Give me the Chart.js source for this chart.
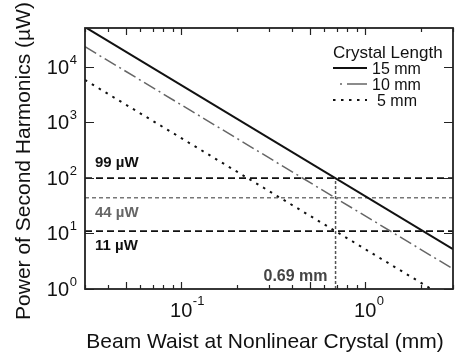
<html>
<head>
    <script src="https://cdn.jsdelivr.net/npm/chart.js@4/dist/chart.umd.min.js"></script>
    <title>Second harmonic power</title>
    <style>body { margin: 0; background: #fff; }</style>
</head>
<body>
<canvas id="shg-chart" width="457" height="355"></canvas>

<script>
    // beam waist (mm) at both ends of each line, and power (uW) there
    var waist = [0.03, 3];
    var power15 = [52000, 5.2];
    var power10 = [23000, 2.3];
    var power5 = [5800, 0.58];

    // reference levels and the cut waist
    var levels = [99, 44, 11];
    var levelNames = ['99 \u00b5W', '44 \u00b5W', '11 \u00b5W'];
    var cutWaist = 0.69;
    var cutName = '0.69 mm';

    // ticks
    var xTicks = [0.03, 0.04, 0.05, 0.06, 0.07, 0.08, 0.09, 0.1, 0.2, 0.3, 0.4, 0.5, 0.6, 0.7, 0.8, 0.9, 1, 2, 3];
    var xLongTicks = [0.05, 0.1, 0.5, 1];
    var xTickLabels = [[0.1, '10', '-1'], [1, '10', '0']];
    var yTicks = [1, 10, 100, 1000, 10000];
    var yTickLabels = ['0', '1', '2', '3', '4'];

    var legendTitle = 'Crystal Length';
    var legendNames = ['15 mm', '10 mm', '5 mm'];

    var FONT = '"Liberation Sans", Arial, Helvetica, sans-serif';

    function pts(xs, ys) {
        return xs.map((x, i) => ({x: x, y: ys[i]}));
    }

    var datasets = [
        {data: pts(waist, power15), borderColor: '#111', borderWidth: 2},
        {data: pts(waist, power10), borderColor: '#666', borderWidth: 1.5, borderDash: [13, 4, 2, 4]},
        {data: pts(waist, power5), borderColor: '#111', borderWidth: 2, borderDash: [2.5, 5.5]}
    ];
    levels.forEach((lv, i) => {
        datasets.push({
            data: pts(waist, [lv, lv]),
            borderColor: i == 1 ? '#777' : '#111',
            borderWidth: i == 1 ? 1.5 : 1.6,
            borderDash: i == 1 ? [4, 3] : [7, 4]
        });
    });
    datasets.push({
        data: pts([cutWaist, cutWaist], [1, levels[0]]),
        borderColor: '#555', borderWidth: 1.5, borderDash: [3, 2]
    });
    datasets.forEach(d => { d.pointRadius = 0; d.fill = false; });

    var decorations = {
        id: 'decorations',
        afterDraw: function (chart) {
            var ctx = chart.ctx;
            var a = chart.chartArea;
            var xs = chart.scales.x, ys = chart.scales.y;
            ctx.save();

            // frame
            ctx.strokeStyle = '#222';
            ctx.lineWidth = 1.8;
            ctx.setLineDash([]);
            ctx.strokeRect(a.left, a.top, a.right - a.left, a.bottom - a.top);

            // inward ticks
            ctx.lineWidth = 1.2;
            ctx.beginPath();
            xTicks.forEach(v => {
                var px = Math.round(xs.getPixelForValue(v)) + 0.5;
                var len = xLongTicks.indexOf(v) >= 0 ? 7 : 4;
                ctx.moveTo(px, a.bottom); ctx.lineTo(px, a.bottom - len);
                ctx.moveTo(px, a.top); ctx.lineTo(px, a.top + len);
            });
            yTicks.forEach(v => {
                var py = Math.round(ys.getPixelForValue(v)) + 0.5;
                ctx.moveTo(a.left, py); ctx.lineTo(a.left + 9, py);
                ctx.moveTo(a.right, py); ctx.lineTo(a.right - 9, py);
            });
            ctx.stroke();

            // tick labels
            ctx.fillStyle = '#111';
            ctx.textBaseline = 'alphabetic';
            xTickLabels.forEach(t => {
                var px = xs.getPixelForValue(t[0]);
                ctx.font = '20px ' + FONT;
                ctx.textAlign = 'center';
                ctx.fillText(t[1], px, 317);
                var w = ctx.measureText(t[1]).width;
                ctx.font = '13px ' + FONT;
                ctx.textAlign = 'left';
                ctx.fillText(t[2], px + w / 2 + 0.5, 305);
            });
            yTicks.forEach((v, i) => {
                var py = ys.getPixelForValue(v);
                ctx.font = '13px ' + FONT;
                ctx.textAlign = 'right';
                ctx.fillText(yTickLabels[i], 77, py - 3);
                ctx.font = '20px ' + FONT;
                ctx.fillText('10', 69, py + 7);
            });

            // axis titles
            ctx.font = '21px ' + FONT;
            ctx.textAlign = 'center';
            ctx.fillText('Beam Waist at Nonlinear Crystal (mm)', 265, 348);
            ctx.save();
            ctx.translate(30, 161);
            ctx.rotate(-Math.PI / 2);
            ctx.fillText('Power of Second Harmonics (\u00b5W)', 0, 0);
            ctx.restore();

            // level labels
            ctx.font = 'bold 15px ' + FONT;
            ctx.textAlign = 'left';
            var lvOffset = [-11, 19, 19];
            levels.forEach((lv, i) => {
                var py = ys.getPixelForValue(lv);
                ctx.fillStyle = i == 1 ? '#666' : '#111';
                ctx.fillText(levelNames[i], 95, py + lvOffset[i]);
            });
            ctx.font = 'bold 16px ' + FONT;
            ctx.fillStyle = '#444';
            ctx.textAlign = 'right';
            ctx.fillText(cutName, xs.getPixelForValue(cutWaist) - 8, 281);

            // legend
            ctx.fillStyle = '#111';
            ctx.textAlign = 'left';
            ctx.font = '17px ' + FONT;
            ctx.fillText(legendTitle, 333, 58);
            ctx.font = '16px ' + FONT;
            var styles = datasets.slice(0, 3);
            legendNames.forEach((name, i) => {
                var y = 68 + i * 16;
                ctx.strokeStyle = styles[i].borderColor;
                ctx.lineWidth = styles[i].borderWidth;
                ctx.setLineDash(i == 1 ? [2, 5, 20, 0] : (styles[i].borderDash || []));
                ctx.beginPath();
                ctx.moveTo(i == 1 ? 340 : 333, y);
                ctx.lineTo(367, y);
                ctx.stroke();
                ctx.fillText(name, i == 2 ? 377 : 372, y + 6);
            });
            ctx.restore();
        }
    };

    var shgChart = new Chart(document.getElementById('shg-chart'), {
        type: 'line',
        data: {datasets: datasets},
        options: {
            responsive: false,
            animation: false,
            layout: {padding: {top: 28, right: 4, left: 0, bottom: 0}},
            plugins: {legend: {display: false}, tooltip: {enabled: false}},
            scales: {
                x: {
                    type: 'logarithmic', min: 0.03, max: 3,
                    grid: {display: false}, border: {display: false},
                    ticks: {display: false},
                    afterFit: s => { s.height = 66; }
                },
                y: {
                    type: 'logarithmic', min: 1, max: 50000,
                    grid: {display: false}, border: {display: false},
                    ticks: {display: false},
                    afterFit: s => { s.width = 85; }
                }
            }
        },
        plugins: [decorations]
    });
</script>
</body>
</html>
